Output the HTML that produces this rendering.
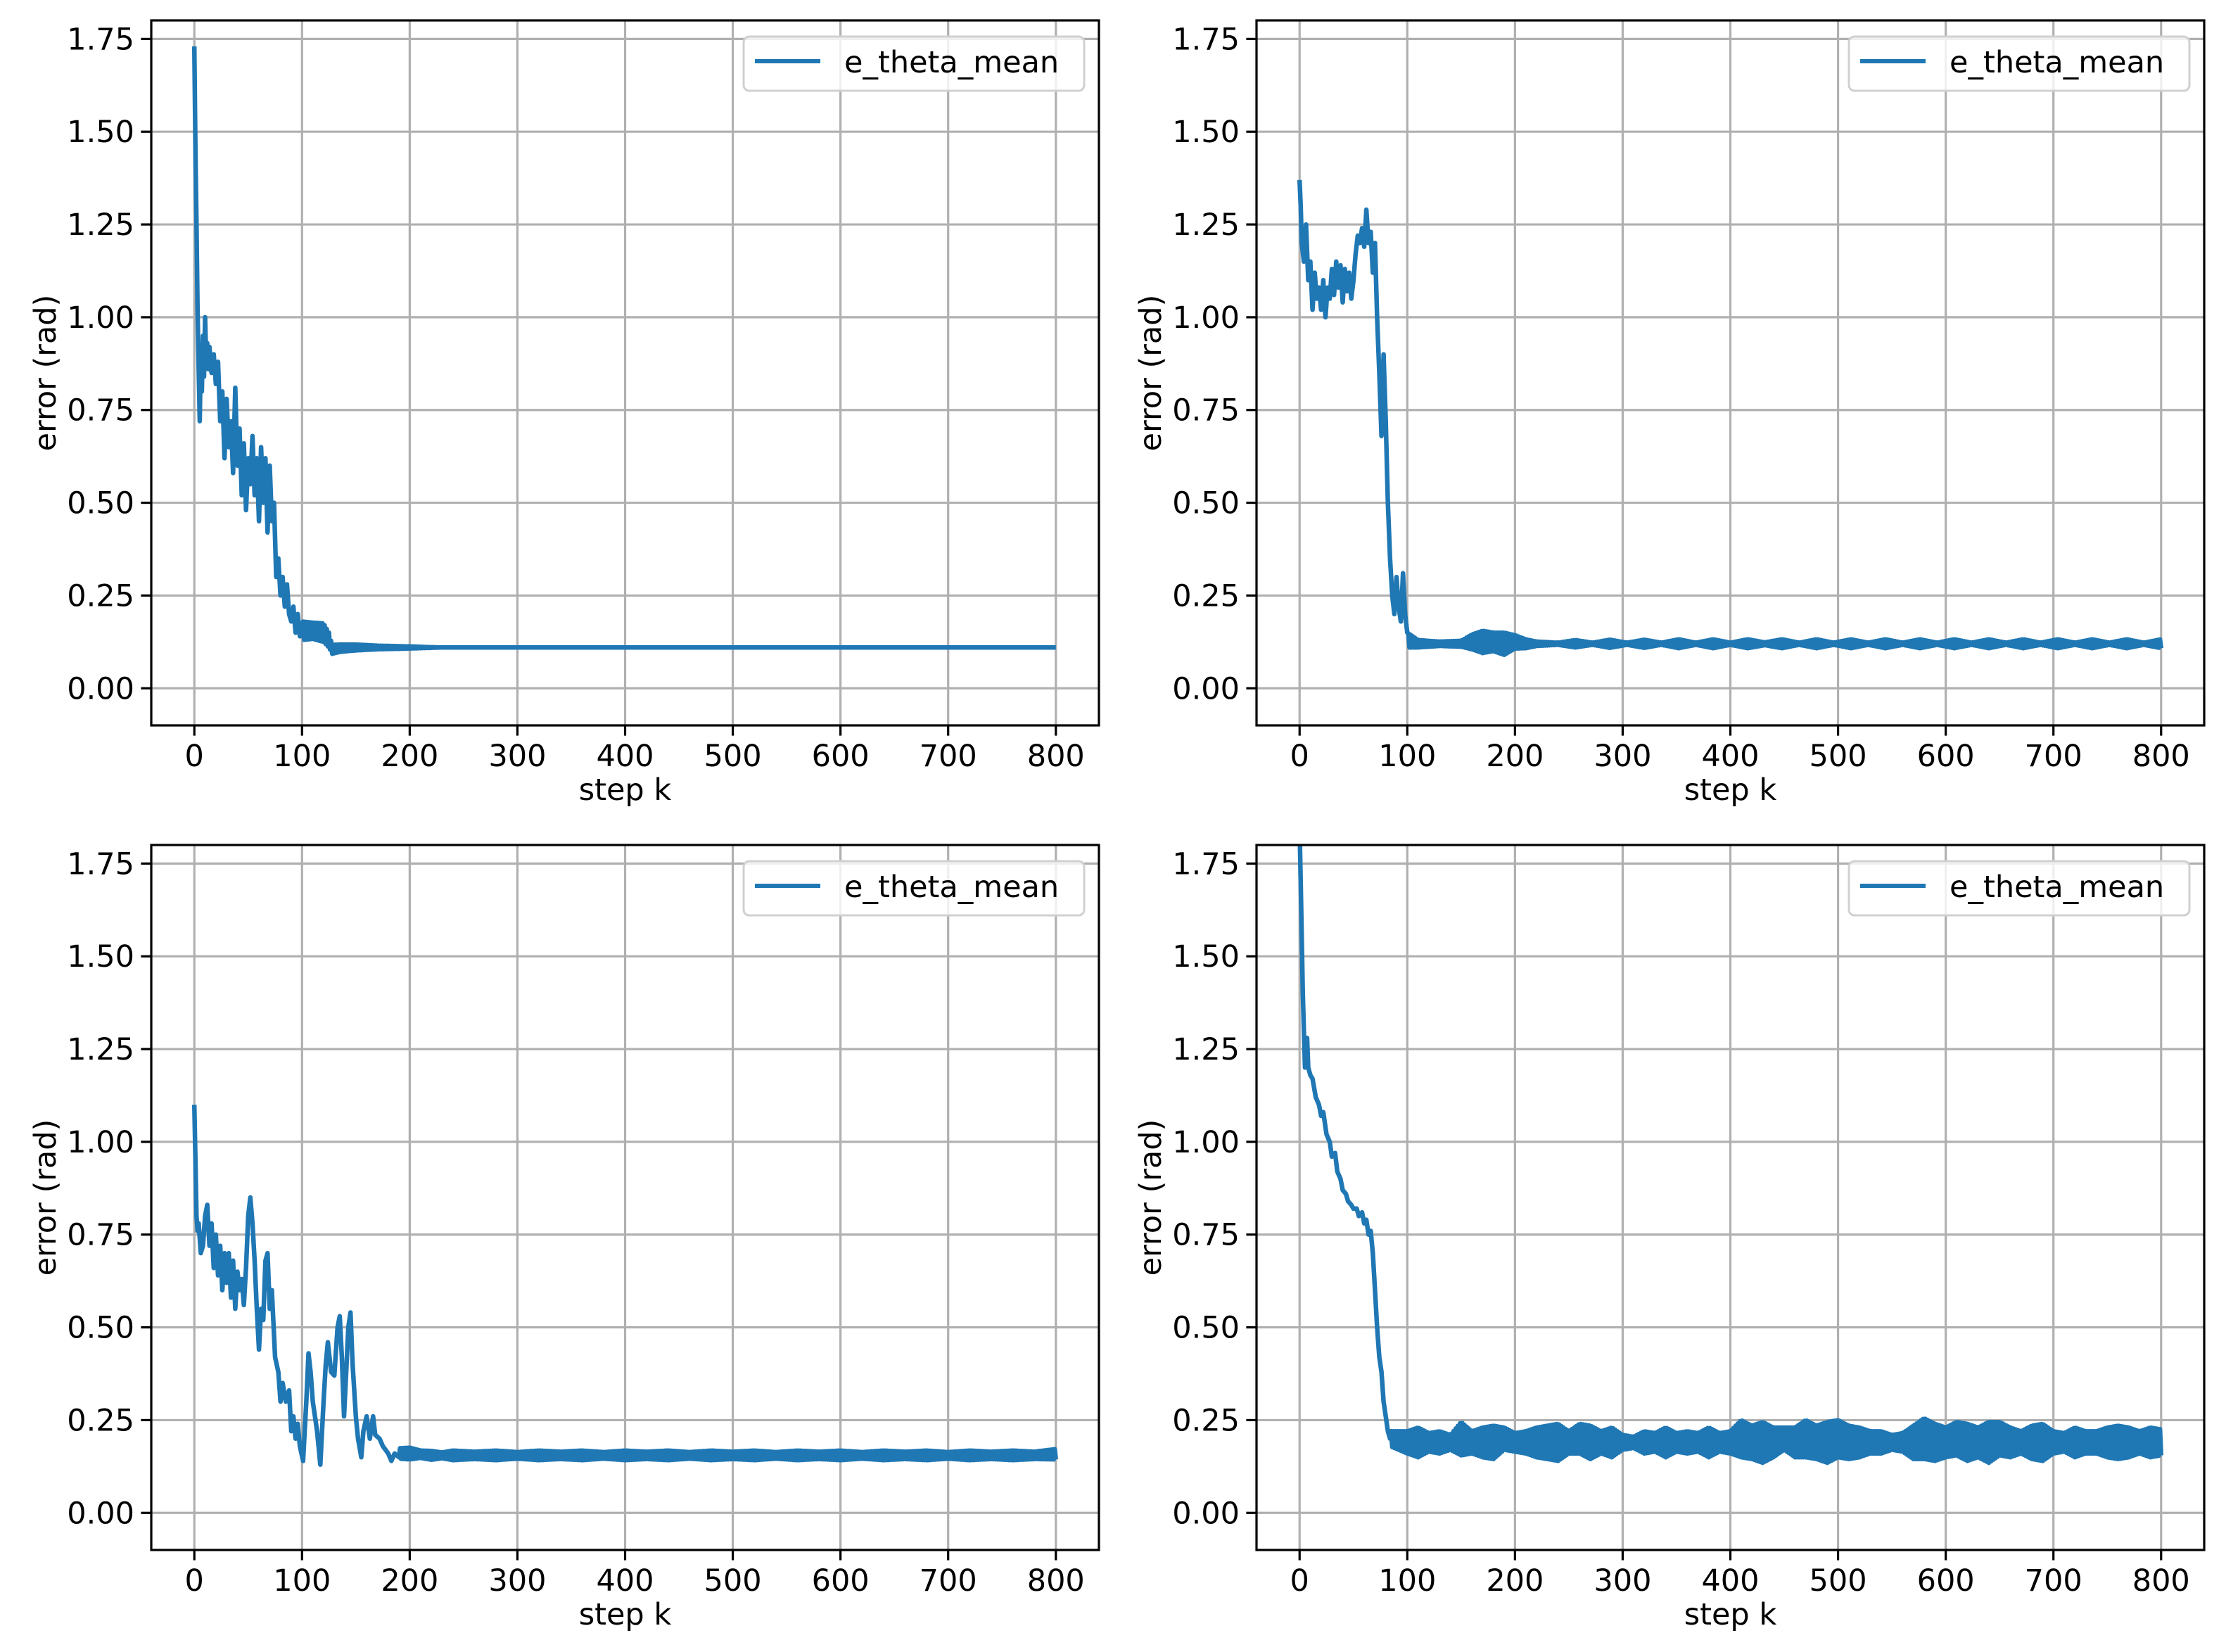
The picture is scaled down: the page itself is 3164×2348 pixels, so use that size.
<!DOCTYPE html>
<html><head><meta charset="utf-8"><title>e_theta_mean error plots</title>
<style>html,body{margin:0;padding:0;background:#fff;}svg{display:block;}</style>
</head><body>
<svg id="fig" xmlns="http://www.w3.org/2000/svg" width="3164" height="2348" viewBox="0 0 3164 2348" font-family="'DejaVu Sans','Liberation Sans',sans-serif"></svg>
<script>
// ---- shared axis data ----
const xTicks = [0,100,200,300,400,500,600,700,800];
const yTicks = [0,0.25,0.5,0.75,1.0,1.25,1.5,1.75];
const yTickLabels = ["0.00","0.25","0.50","0.75","1.00","1.25","1.50","1.75"];
const seriesName = "e_theta_mean";

// ---- panel 1 (top-left) ----
const p1HeadK = [0,1,2,3,4,5,6,7,8,9,10,11,12,13,14,16,18,20,22,24,26,28,30,32,34,36,38,40,42,44,46,48,50,52,54,56,58,60,62,64,66,68,70,72,74,76,78,80,82,84,86,88,90,92,94,96,98,100];
const p1HeadV = [1.73,1.45,1.25,1.02,0.86,0.72,0.9,0.8,0.95,0.84,1.0,0.88,0.93,0.86,0.92,0.85,0.9,0.82,0.88,0.72,0.8,0.62,0.78,0.65,0.72,0.58,0.81,0.6,0.7,0.52,0.66,0.48,0.62,0.55,0.68,0.52,0.62,0.45,0.65,0.5,0.62,0.42,0.6,0.45,0.5,0.3,0.35,0.25,0.3,0.22,0.28,0.2,0.18,0.22,0.15,0.2,0.14,0.17];
const p1TailK = [100,110,120,125,128,135,150,170,200,230,800];
const p1TailMid = [0.155,0.155,0.15,0.13,0.105,0.108,0.11,0.11,0.11,0.11,0.11];
const p1TailAmp = [0.025,0.022,0.025,0.02,0.012,0.01,0.008,0.005,0.003,0.0,0.0];

// ---- panel 2 (top-right) ----
const p2HeadK = [0,1,2,4,6,8,10,12,14,16,18,20,22,24,26,28,30,32,34,36,38,40,42,44,46,48,50,52,54,56,58,60,62,64,66,68,70,72,74,76,78,80,82,84,86,88,90,92,94,96,98,100];
const p2HeadV = [1.37,1.3,1.2,1.15,1.25,1.1,1.15,1.02,1.12,1.05,1.08,1.02,1.1,1.0,1.08,1.05,1.13,1.06,1.15,1.08,1.14,1.04,1.13,1.07,1.12,1.05,1.1,1.17,1.22,1.2,1.24,1.19,1.29,1.2,1.23,1.12,1.2,1.0,0.85,0.68,0.9,0.72,0.5,0.35,0.25,0.2,0.3,0.22,0.18,0.31,0.2,0.15];
const p2TailK = [100,110,130,150,160,170,180,190,200,210,220,240,256,272,288,304,320,336,352,368,384,400,416,432,448,464,480,496,512,528,544,560,576,592,608,624,640,656,672,688,704,720,736,752,768,784,800];
const p2TailMid = [0.13,0.12,0.12,0.12,0.125,0.125,0.125,0.12,0.125,0.12,0.12,0.12,0.12,0.12,0.12,0.12,0.12,0.12,0.12,0.12,0.12,0.12,0.12,0.12,0.12,0.12,0.12,0.12,0.12,0.12,0.12,0.12,0.12,0.12,0.12,0.12,0.12,0.12,0.12,0.12,0.12,0.12,0.12,0.12,0.12,0.12,0.12];
const p2TailAmp = [0.02,0.01,0.006,0.008,0.02,0.03,0.025,0.03,0.018,0.012,0.006,0.003,0.01,0.003,0.011,0.003,0.011,0.003,0.012,0.003,0.012,0.003,0.012,0.004,0.012,0.003,0.012,0.003,0.012,0.003,0.012,0.003,0.012,0.003,0.012,0.003,0.012,0.003,0.012,0.003,0.012,0.003,0.012,0.003,0.012,0.003,0.012];

// ---- panel 3 (bottom-left) ----
const p3HeadK = [0,1,2,3,4,6,8,10,12,14,16,18,20,22,24,26,28,30,32,34,36,38,40,42,44,46,48,50,52,54,56,58,60,62,64,66,68,70,72,75,78,80,82,85,88,90,92,94,96,98,101,104,106,108,110,112,114,117,120,122,124,127,130,133,135,137,139,141,143,145,147,150,152,155,157,160,163,166,168,172,175,180,183,186,190];
const p3HeadV = [1.1,0.95,0.8,0.76,0.78,0.7,0.72,0.8,0.83,0.72,0.78,0.66,0.75,0.64,0.72,0.6,0.7,0.62,0.7,0.58,0.68,0.55,0.65,0.6,0.63,0.56,0.66,0.8,0.85,0.78,0.68,0.55,0.44,0.55,0.52,0.68,0.7,0.55,0.6,0.42,0.38,0.3,0.35,0.3,0.33,0.22,0.26,0.2,0.24,0.18,0.14,0.3,0.43,0.38,0.3,0.26,0.22,0.13,0.3,0.4,0.46,0.38,0.37,0.5,0.53,0.42,0.26,0.38,0.5,0.54,0.4,0.26,0.2,0.15,0.22,0.26,0.2,0.26,0.21,0.2,0.18,0.16,0.14,0.16,0.15];
const p3TailK = [190,200,210,220,230,240,260,280,300,320,340,360,380,400,420,440,460,480,500,520,540,560,580,600,620,640,660,680,700,720,740,760,780,800];
const p3TailMid = [0.16,0.16,0.158,0.155,0.155,0.155,0.155,0.155,0.155,0.155,0.155,0.155,0.155,0.155,0.155,0.155,0.155,0.155,0.155,0.155,0.155,0.155,0.155,0.155,0.155,0.155,0.155,0.155,0.155,0.155,0.155,0.155,0.155,0.158];
const p3TailAmp = [0.014,0.016,0.01,0.012,0.008,0.013,0.01,0.013,0.009,0.013,0.01,0.013,0.009,0.013,0.01,0.013,0.009,0.013,0.01,0.013,0.009,0.013,0.01,0.013,0.009,0.013,0.01,0.013,0.009,0.013,0.01,0.013,0.01,0.014];

// ---- panel 4 (bottom-right) ----
const p4HeadK = [0,1,2,3,4,5,6,7,8,10,12,15,18,20,22,25,28,30,33,35,38,40,43,45,48,50,53,55,58,60,62,64,66,68,70,72,74,76,78,80,82,84];
const p4HeadV = [1.85,1.7,1.55,1.4,1.3,1.2,1.25,1.28,1.2,1.18,1.17,1.12,1.1,1.07,1.08,1.02,1.0,0.96,0.97,0.92,0.9,0.87,0.86,0.84,0.83,0.82,0.82,0.8,0.81,0.78,0.79,0.75,0.76,0.7,0.6,0.5,0.42,0.38,0.3,0.26,0.22,0.2];
const p4TailK = [84,100,110,120,130,140,150,160,170,180,190,200,210,220,230,240,250,260,270,280,290,300,310,320,330,340,350,360,370,380,390,400,410,420,430,440,450,460,470,480,490,500,510,520,530,540,550,560,570,580,590,600,610,620,630,640,650,660,670,680,690,700,710,720,730,740,750,760,770,780,790,800];
const p4TailMid = [0.2,0.19,0.19,0.19,0.19,0.19,0.2,0.19,0.19,0.19,0.2,0.19,0.19,0.19,0.19,0.19,0.19,0.2,0.19,0.19,0.19,0.19,0.19,0.19,0.19,0.19,0.19,0.19,0.19,0.19,0.19,0.19,0.2,0.19,0.19,0.19,0.2,0.19,0.2,0.19,0.19,0.2,0.19,0.19,0.19,0.19,0.19,0.19,0.19,0.2,0.19,0.19,0.2,0.19,0.19,0.19,0.2,0.19,0.19,0.19,0.19,0.19,0.19,0.19,0.19,0.19,0.19,0.19,0.19,0.19,0.19,0.19];
const p4TailAmp = [0.02,0.03,0.04,0.025,0.03,0.02,0.045,0.03,0.04,0.045,0.03,0.025,0.03,0.04,0.045,0.05,0.03,0.04,0.045,0.03,0.04,0.02,0.015,0.03,0.025,0.04,0.025,0.03,0.025,0.04,0.025,0.03,0.05,0.045,0.055,0.04,0.03,0.04,0.05,0.045,0.055,0.05,0.045,0.04,0.03,0.03,0.02,0.025,0.045,0.055,0.05,0.04,0.045,0.05,0.04,0.055,0.045,0.04,0.03,0.045,0.05,0.03,0.025,0.04,0.03,0.03,0.04,0.045,0.04,0.03,0.04,0.035];

const panels = [
  {name:'top-left', L:215, T:29, hk:p1HeadK, hv:p1HeadV, tk:p1TailK, tm:p1TailMid, ta:p1TailAmp},
  {name:'top-right', L:1786, T:29, hk:p2HeadK, hv:p2HeadV, tk:p2TailK, tm:p2TailMid, ta:p2TailAmp},
  {name:'bottom-left', L:215, T:1201, hk:p3HeadK, hv:p3HeadV, tk:p3TailK, tm:p3TailMid, ta:p3TailAmp},
  {name:'bottom-right', L:1786, T:1201, hk:p4HeadK, hv:p4HeadV, tk:p4TailK, tm:p4TailMid, ta:p4TailAmp}
];
const W = 1347, H = 1002, XMIN = -40, XMAX = 840, YMIN = -0.1, YMAX = 1.8;
const NS = 'http://www.w3.org/2000/svg';
const fig = document.getElementById('fig');

function mk(tag, attrs, parent) {
  const e = document.createElementNS(NS, tag);
  for (const k in attrs) e.setAttribute(k, attrs[k]);
  parent.appendChild(e);
  return e;
}
function interp(ks, vs, k) {
  if (k <= ks[0]) return vs[0];
  for (let i = 1; i < ks.length; i++) {
    if (k <= ks[i]) { const t = (k - ks[i-1]) / (ks[i] - ks[i-1]); return vs[i-1] + t * (vs[i] - vs[i-1]); }
  }
  return vs[vs.length - 1];
}

panels.forEach((p, pi) => {
  const sx = v => p.L + (v - XMIN) / (XMAX - XMIN) * W;
  const sy = v => p.T + (YMAX - v) / (YMAX - YMIN) * H;
  const g = mk('g', {}, fig);
  
  
  const clipId = 'clip' + pi;
  const cp = mk('clipPath', {id: clipId}, g);
  mk('rect', {x: p.L, y: p.T, width: W, height: H}, cp);

  const grid = mk('g', {stroke: '#b0b0b0', 'stroke-width': 3.2}, g);
  
  
  xTicks.forEach(t => { const l = mk('line', {x1: sx(t), x2: sx(t), y1: p.T, y2: p.T + H}, grid);
      });
  yTicks.forEach(t => { const l = mk('line', {x1: p.L, x2: p.L + W, y1: sy(t), y2: sy(t)}, grid);
      });

  const pts = [];
  for (let i = 0; i < p.hk.length; i++) pts.push([sx(p.hk[i]), sy(p.hv[i])]);
  const last = p.hk[p.hk.length - 1];
  for (let k = last + 1; k <= 800; k++) {
    const m = interp(p.tk, p.tm, k), a = interp(p.tk, p.ta, k);
    pts.push([sx(k), sy(m + (k % 2 ? a : -a))]);
  }
  const line = mk('polyline', {points: pts.map(q => q[0].toFixed(1) + ',' + q[1].toFixed(1)).join(' '),
    fill: 'none', stroke: '#1f77b4', 'stroke-width': 6.5, 'stroke-linejoin': 'round', 'clip-path': 'url(#' + clipId + ')'}, g);
  
  

  const sp = mk('rect', {x: p.L, y: p.T, width: W, height: H, fill: 'none', stroke: '#000', 'stroke-width': 3.2}, g);
  
  

  xTicks.forEach(t => {
    mk('line', {x1: sx(t), x2: sx(t), y1: p.T + H, y2: p.T + H + 14.6, stroke: '#000', 'stroke-width': 3.2}, g);
    const tx = mk('text', {x: sx(t), y: p.T + H + 58, 'text-anchor': 'middle', 'font-size': 43, fill: '#000'}, g);
    tx.textContent = String(t);
    
    
  });
  yTicks.forEach((t, i) => {
    mk('line', {x1: p.L - 14.6, x2: p.L, y1: sy(t), y2: sy(t), stroke: '#000', 'stroke-width': 3.2}, g);
    const ty = mk('text', {x: p.L - 24, y: sy(t) + 15, 'text-anchor': 'end', 'font-size': 43, fill: '#000'}, g);
    ty.textContent = yTickLabels[i];
    
    
  });
  const xl = mk('text', {x: p.L + W / 2, y: p.T + H + 106, 'text-anchor': 'middle', 'font-size': 43, fill: '#000'}, g);
  xl.textContent = 'step k';
  
  
  const yx = p.L - 136, yy = p.T + H / 2;
  const yl = mk('text', {x: yx, y: yy, 'text-anchor': 'middle', 'font-size': 43, fill: '#000', transform: 'rotate(-90 ' + yx + ' ' + yy + ')'}, g);
  yl.textContent = 'error (rad)';
  
  

  const lg = mk('g', {}, g);
  
  
  mk('rect', {x: p.L + 842, y: p.T + 23, width: 484, height: 77, rx: 8, fill: 'rgba(255,255,255,0.8)', stroke: '#d0d0d0', 'stroke-width': 3}, lg);
  mk('line', {x1: p.L + 858, x2: p.L + 951, y1: p.T + 58, y2: p.T + 58, stroke: '#1f77b4', 'stroke-width': 6}, lg);
  const lt = mk('text', {x: p.L + 985, y: p.T + 74, 'font-size': 43, fill: '#000'}, lg);
  lt.textContent = seriesName;
  
  
});
</script>
</body></html>
